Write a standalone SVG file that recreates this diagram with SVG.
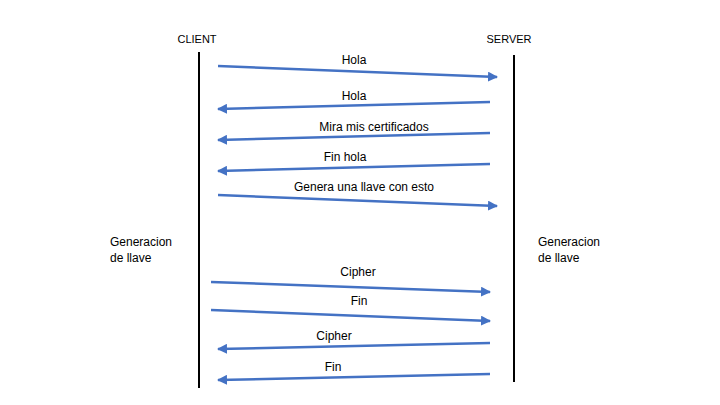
<svg xmlns="http://www.w3.org/2000/svg" width="720" height="405" viewBox="0 0 720 405">
<style>
text{font-family:"Liberation Sans",Arial,sans-serif;font-size:12px;fill:#000}
.hdr{font-size:11px}
.life{stroke:#000;stroke-width:2}
.msg{stroke:#4472C4;stroke-width:2.5;fill:none;marker-end:url(#ah)}
.lbl{text-anchor:middle}
</style>
<defs>
<marker id="ah" viewBox="0 0 10 10" refX="9" refY="5" markerWidth="4" markerHeight="4" orient="auto" markerUnits="strokeWidth">
<path d="M0,0 L10,5 L0,10 z" fill="#4472C4"/>
</marker>
</defs>
<rect width="720" height="405" fill="#fff"/>
<g id="client">
<text x="197" y="43" class="lbl hdr">CLIENT</text>
<line class="life" x1="199" y1="52" x2="199" y2="388"/>
<text x="110" y="246">Generacion</text>
<text x="110" y="262">de llave</text>
</g>
<g id="server">
<text x="509" y="43" class="lbl hdr">SERVER</text>
<line class="life" x1="514" y1="55" x2="514" y2="382"/>
<text x="538" y="246">Generacion</text>
<text x="538" y="262">de llave</text>
</g>
<g id="connectors">
<line class="msg" x1="218" y1="66" x2="497" y2="77"/>
<line class="msg" x1="490" y1="102" x2="218" y2="109"/>
<line class="msg" x1="490" y1="133" x2="218" y2="140"/>
<line class="msg" x1="490" y1="164" x2="218" y2="171"/>
<line class="msg" x1="218" y1="195" x2="497" y2="206"/>
<line class="msg" x1="211" y1="282" x2="490" y2="292"/>
<line class="msg" x1="211" y1="310" x2="490" y2="321"/>
<line class="msg" x1="490" y1="343" x2="218" y2="349"/>
<line class="msg" x1="490" y1="374" x2="218" y2="380"/>
<text x="354" y="64" class="lbl">Hola</text>
<text x="354" y="100" class="lbl">Hola</text>
<text x="374" y="131" class="lbl">Mira mis certificados</text>
<text x="345" y="161" class="lbl">Fin hola</text>
<text x="364" y="191" class="lbl">Genera una llave con esto</text>
<text x="358" y="276" class="lbl">Cipher</text>
<text x="359" y="305" class="lbl">Fin</text>
<text x="334" y="340" class="lbl">Cipher</text>
<text x="333" y="371" class="lbl">Fin</text>
</g>
</svg>
